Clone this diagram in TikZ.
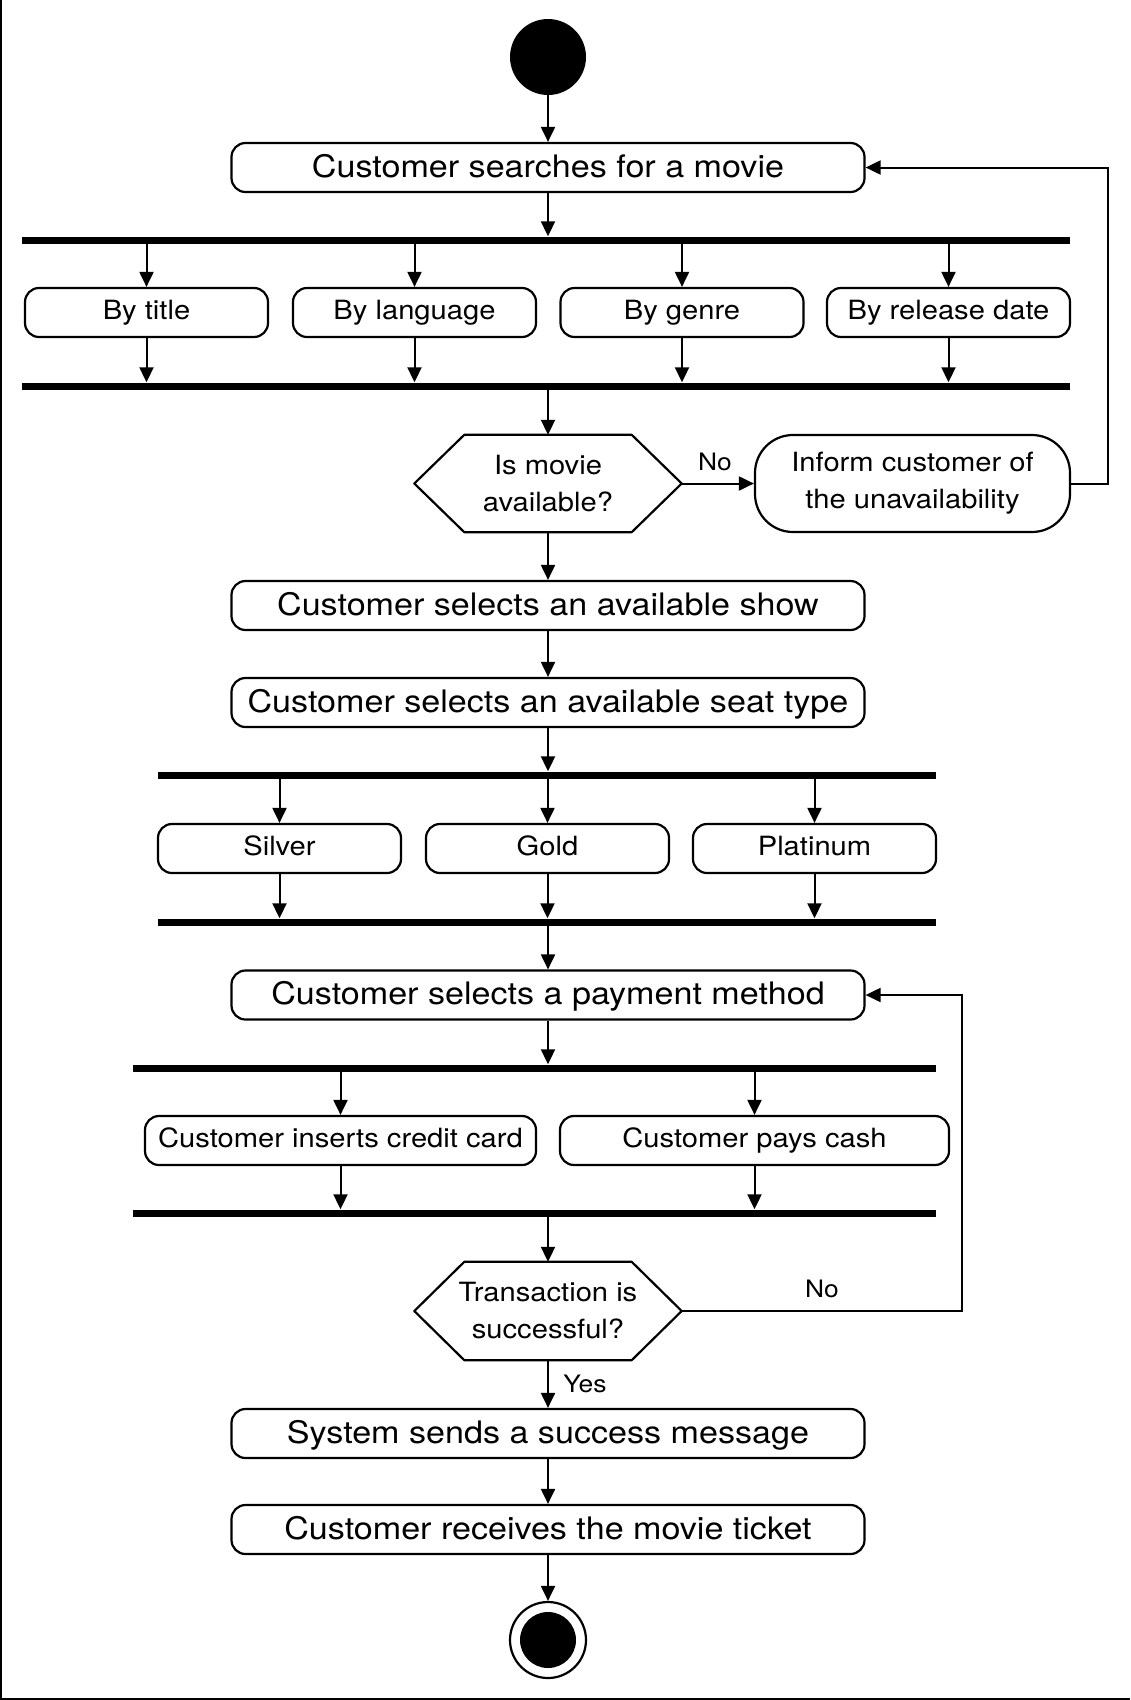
\documentclass[tikz,border=0pt]{standalone}
\usepackage{fontspec}
\setmainfont{TeX Gyre Heros}[FakeStretch=1.1]
\usetikzlibrary{arrows.meta}

\begin{document}
\begin{tikzpicture}[x=1pt, y=-1pt,
		act/.style={draw, line width=2.2pt, rounded corners=14pt, minimum width=633pt, minimum height=49pt, inner sep=0pt, text height=24pt, text depth=5pt, font=\fontsize{31}{37}\selectfont},
		opt/.style={act, minimum width=243pt, text height=20pt, text depth=7pt, font=\fontsize{26.5}{33}\selectfont},
		bar/.style={fill=black, inner sep=0pt, minimum height=7pt},
		decision/.style={minimum width=267pt, minimum height=97pt, inner sep=0pt, align=center, font=\fontsize{26.5}{37}\selectfont},
		hexline/.style={line width=2.2pt, line join=round},
		flow/.style={-{Triangle[length=15pt, width=14pt]}, line width=2pt},
		lbl/.style={inner sep=0pt, font=\fontsize{24}{30}\selectfont}]
		\useasboundingbox (0,0) rectangle (1130,1700);
		% Paths, nodes and wires:
		\draw[line width=2pt] (1,0) -- (1,1699) -- (1130,1699);
		\node[circle, fill=black, minimum size=76pt, inner sep=0pt] (start) at (548,57){};
		\node[act] (search) at (548,167.5){Customer searches for a movie};
		\node[bar, minimum width=1048pt] (fork1) at (546,240){};
		\node[opt] (title) at (146.5,312.5){By title};
		\node[opt] (lang) at (414.5,312.5){By language};
		\node[opt] (genre) at (682,312.5){By genre};
		\node[opt] (date) at (948.5,312.5){By release date};
		\node[bar, minimum width=1048pt] (join1) at (546,386){};
		\node[decision] (avail) at (548,483.5){Is movie\\available?};
		\draw[hexline] (avail.west) -- ([xshift=50pt]avail.north west) -- ([xshift=-50pt]avail.north east) -- (avail.east) -- ([xshift=-50pt]avail.south east) -- ([xshift=50pt]avail.south west) -- cycle;
		\node[draw, line width=2.2pt, rounded corners=38pt, minimum width=315pt, minimum height=97pt, inner sep=0pt, align=center, font=\fontsize{26.5}{37}\selectfont] (inform) at (912.5,483.5){Inform customer of\\the unavailability};
		\node[lbl] (no1) at (715,462){No};
		\node[act] (show) at (548,605.5){Customer selects an available show};
		\node[act] (seat) at (548,702.5){Customer selects an available seat type};
		\node[bar, minimum width=778pt] (fork2) at (547,775){};
		\node[opt] (silver) at (279.5,848.5){Silver};
		\node[opt] (gold) at (547.5,848.5){Gold};
		\node[opt] (plat) at (814.5,848.5){Platinum};
		\node[bar, minimum width=778pt] (join2) at (547,922){};
		\node[act] (pay) at (548,995){Customer selects a payment method};
		\node[bar, minimum width=803pt] (fork3) at (534.5,1068){};
		\node[opt, minimum width=391pt] (credit) at (340.5,1140.5){Customer inserts credit card};
		\node[opt, minimum width=389pt] (cash) at (754.5,1140.5){Customer pays cash};
		\node[bar, minimum width=803pt] (join3) at (534.5,1213){};
		\node[decision, minimum height=98pt] (trans) at (548,1311){Transaction is\\successful?};
		\draw[hexline] (trans.west) -- ([xshift=50pt]trans.north west) -- ([xshift=-50pt]trans.north east) -- (trans.east) -- ([xshift=-50pt]trans.south east) -- ([xshift=50pt]trans.south west) -- cycle;
		\node[lbl] (no2) at (822,1289){No};
		\node[lbl] (yes) at (585,1384){Yes};
		\node[act] (success) at (548,1433.5){System sends a success message};
		\node[act] (ticket) at (548,1529.5){Customer receives the movie ticket};
		\node[circle, draw, line width=2.2pt, minimum size=76pt, inner sep=0pt] (stop) at (548,1640){};
		\node[circle, fill=black, minimum size=56pt, inner sep=0pt] (stopdot) at (stop){};
		\draw[flow] (start) -- (search);
		\draw[flow] (search) -- (search |- fork1.north);
		\draw[flow] (fork1.south -| title) -- (title);
		\draw[flow] (fork1.south -| lang) -- (lang);
		\draw[flow] (fork1.south -| genre) -- (genre);
		\draw[flow] (fork1.south -| date) -- (date);
		\draw[flow] (title) -- (title |- join1.north);
		\draw[flow] (lang) -- (lang |- join1.north);
		\draw[flow] (genre) -- (genre |- join1.north);
		\draw[flow] (date) -- (date |- join1.north);
		\draw[flow] (avail |- join1.south) -- (avail);
		\draw[flow] (avail) -- (inform);
		\draw[flow] (inform.east) -- ++(37,0) |- (search);
		\draw[flow] (avail) -- (show);
		\draw[flow] (show) -- (seat);
		\draw[flow] (seat) -- (seat |- fork2.north);
		\draw[flow] (fork2.south -| silver) -- (silver);
		\draw[flow] (fork2.south -| gold) -- (gold);
		\draw[flow] (fork2.south -| plat) -- (plat);
		\draw[flow] (silver) -- (silver |- join2.north);
		\draw[flow] (gold) -- (gold |- join2.north);
		\draw[flow] (plat) -- (plat |- join2.north);
		\draw[flow] (pay |- join2.south) -- (pay);
		\draw[flow] (pay) -- (pay |- fork3.north);
		\draw[flow] (fork3.south -| credit) -- (credit);
		\draw[flow] (fork3.south -| cash) -- (cash);
		\draw[flow] (credit) -- (credit |- join3.north);
		\draw[flow] (cash) -- (cash |- join3.north);
		\draw[flow] (trans |- join3.south) -- (trans);
		\draw[flow] (trans.east) -- ++(280,0) |- (pay);
		\draw[flow] (trans) -- (success);
		\draw[flow] (success) -- (ticket);
		\draw[flow] (ticket) -- (stop);
	\end{tikzpicture}
\end{document}
